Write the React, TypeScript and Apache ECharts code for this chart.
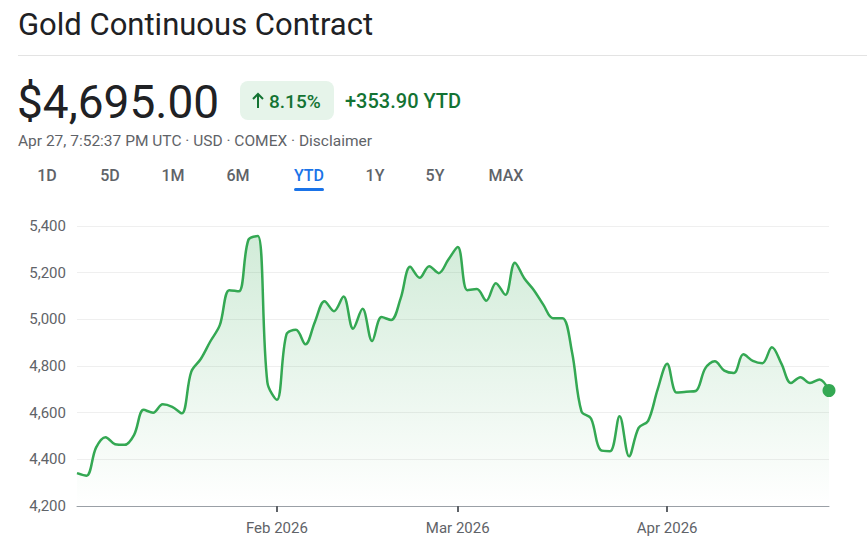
import React, { useEffect, useRef } from "react";
import * as echarts from "echarts";

const dates: string[] = [
  "2025-12-31",
  "2026-01-02", "2026-01-05", "2026-01-06", "2026-01-07", "2026-01-08", "2026-01-09",
  "2026-01-12", "2026-01-13", "2026-01-14", "2026-01-15", "2026-01-16",
  "2026-01-20", "2026-01-21", "2026-01-22", "2026-01-23",
  "2026-01-26", "2026-01-27", "2026-01-28", "2026-01-29", "2026-01-30",
  "2026-02-02", "2026-02-03", "2026-02-04", "2026-02-05", "2026-02-06",
  "2026-02-09", "2026-02-10", "2026-02-11", "2026-02-12", "2026-02-13",
  "2026-02-17", "2026-02-18", "2026-02-19", "2026-02-20",
  "2026-02-23", "2026-02-24", "2026-02-25", "2026-02-26", "2026-02-27",
  "2026-03-02", "2026-03-03", "2026-03-04", "2026-03-05", "2026-03-06",
  "2026-03-09", "2026-03-10", "2026-03-11", "2026-03-12", "2026-03-13",
  "2026-03-16", "2026-03-17", "2026-03-18", "2026-03-19", "2026-03-20",
  "2026-03-23", "2026-03-24", "2026-03-25", "2026-03-26", "2026-03-27",
  "2026-03-30", "2026-03-31",
  "2026-04-01", "2026-04-02",
  "2026-04-06", "2026-04-07", "2026-04-08", "2026-04-09", "2026-04-10",
  "2026-04-13", "2026-04-14", "2026-04-15", "2026-04-16", "2026-04-17",
  "2026-04-20", "2026-04-21", "2026-04-22", "2026-04-23", "2026-04-24",
  "2026-04-27",
];

const prices: number[] = [
  4341.1,
  4330, 4450, 4495, 4465, 4462, 4505,
  4612, 4600, 4636, 4625, 4597,
  4775, 4830, 4905, 4975,
  5125, 5120, 5340, 5357, 4730,
  4655, 4935, 4955, 4893, 4990,
  5078, 5035, 5098, 4960, 5045,
  4907, 5010, 4997, 5090,
  5225, 5178, 5228, 5198, 5255,
  5310, 5125, 5130, 5080, 5155,
  5105, 5243, 5175, 5125, 5062,
  5005, 5005, 4860, 4605, 4575,
  4440, 4435, 4585, 4413, 4535,
  4565, 4700,
  4810, 4686,
  4690, 4693, 4790, 4820, 4780,
  4770, 4850, 4822, 4812, 4880,
  4810, 4727, 4752, 4727, 4742,
  4695,
];

const monthTickDates: string[] = ["2026-02-02", "2026-03-02", "2026-04-01"];
const monthTickLabels: string[] = ["Feb 2026", "Mar 2026", "Apr 2026"];
const yTicks: number[] = [4200, 4400, 4600, 4800, 5000, 5200, 5400];

const title = "Gold Continuous Contract";
const priceText = "$4,695.00";
const changePct = "8.15%";
const changeAbs = "+353.90 YTD";
const subtitle = "Apr 27, 7:52:37 PM UTC · USD · COMEX · Disclaimer";
const tabs: string[] = ["1D", "5D", "1M", "6M", "YTD", "1Y", "5Y", "MAX"];
const activeTab = "YTD";

const FONT = "Roboto, 'Noto Sans', Arial, sans-serif";
const GREEN = "#34a853";
const DARK_GREEN = "#137333";

export default function App() {
  const ref = useRef<HTMLDivElement>(null);

  useEffect(() => {
    if (!ref.current) return;
    const chart = echarts.init(ref.current, undefined, { renderer: "svg" });

    const tickIdx = monthTickDates.map((d) => dates.indexOf(d));
    const tabX = [47, 110, 173, 238, 309, 375, 435, 506];

    const graphics: any[] = [
      {
        type: "text",
        x: 18,
        y: 24,
        style: {
          text: title,
          fill: "#202124",
          fontSize: 31,
          fontFamily: FONT,
          fontWeight: 400,
          textAlign: "left",
          textVerticalAlign: "middle",
        },
      },
      {
        type: "line",
        shape: { x1: 18, y1: 55.5, x2: 867, y2: 55.5 },
        style: { stroke: "#e3e3e3", lineWidth: 1 },
      },
      {
        type: "text",
        x: 17,
        y: 102,
        style: {
          text: priceText,
          fill: "#202124",
          fontSize: 46,
          fontFamily: FONT,
          fontWeight: 400,
          textAlign: "left",
          textVerticalAlign: "middle",
        },
      },
      {
        type: "rect",
        shape: { x: 240, y: 81, width: 94, height: 39, r: 8 },
        style: { fill: "#e6f4ea" },
      },
      {
        type: "polyline",
        shape: { points: [[253, 99], [258, 94], [263, 99]] },
        style: { stroke: DARK_GREEN, lineWidth: 2, fill: null },
      },
      {
        type: "line",
        shape: { x1: 258, y1: 95, x2: 258, y2: 108 },
        style: { stroke: DARK_GREEN, lineWidth: 2 },
      },
      {
        type: "text",
        x: 269,
        y: 101,
        style: {
          text: changePct,
          fill: DARK_GREEN,
          fontSize: 19,
          fontFamily: FONT,
          fontWeight: 500,
          textAlign: "left",
          textVerticalAlign: "middle",
        },
      },
      {
        type: "text",
        x: 345,
        y: 101,
        style: {
          text: changeAbs,
          fill: DARK_GREEN,
          fontSize: 20,
          fontFamily: FONT,
          fontWeight: 500,
          textAlign: "left",
          textVerticalAlign: "middle",
        },
      },
      {
        type: "text",
        x: 18,
        y: 141,
        style: {
          text: subtitle,
          fill: "#5f6368",
          fontSize: 15.5,
          fontFamily: FONT,
          fontWeight: 400,
          textAlign: "left",
          textVerticalAlign: "middle",
        },
      },
      ...tabs.map((t, i) => ({
        type: "text",
        x: tabX[i],
        y: 175,
        style: {
          text: t,
          fill: t === activeTab ? "#1a73e8" : "#5f6368",
          fontSize: 16,
          fontFamily: FONT,
          fontWeight: 500,
          textAlign: "center",
          textVerticalAlign: "middle",
        },
      })),
      {
        type: "rect",
        shape: { x: 294, y: 188, width: 30, height: 3, r: 1.5 },
        style: { fill: "#1a73e8" },
      },
    ];

    chart.setOption({
      animation: false,
      graphic: graphics,
      grid: { left: 77, right: 38, top: 226, bottom: 49, containLabel: false },
      xAxis: {
        type: "category",
        data: dates,
        boundaryGap: false,
        axisLine: { show: true, lineStyle: { color: "#9aa0a6", width: 1 } },
        axisTick: {
          show: true,
          interval: (idx: number) => tickIdx.includes(idx),
          length: 6,
          lineStyle: { color: "#5f6368", width: 2 },
        },
        axisLabel: {
          interval: (idx: number) => tickIdx.includes(idx),
          formatter: (v: string) => {
            const k = monthTickDates.indexOf(v);
            return k >= 0 ? monthTickLabels[k] : "";
          },
          color: "#5f6368",
          fontSize: 15,
          fontFamily: FONT,
          margin: 14,
        },
        splitLine: { show: false },
      },
      yAxis: {
        type: "value",
        min: yTicks[0],
        max: yTicks[yTicks.length - 1],
        interval: 200,
        axisLine: { show: false },
        axisTick: { show: false },
        axisLabel: {
          color: "#5f6368",
          fontSize: 15,
          fontFamily: FONT,
          margin: 11,
          formatter: (v: number) => v.toLocaleString("en-US"),
        },
        splitLine: { show: true, lineStyle: { color: "#efefef", width: 1 } },
      },
      series: [
        {
          type: "line",
          data: prices,
          smooth: 0.35,
          showSymbol: false,
          symbol: "none",
          lineStyle: { color: GREEN, width: 2.5 },
          areaStyle: {
            color: new echarts.graphic.LinearGradient(0, 0, 0, 1, [
              { offset: 0, color: "rgba(52,168,83,0.32)" },
              { offset: 1, color: "rgba(52,168,83,0.0)" },
            ]),
          },
          z: 2,
        },
        {
          type: "scatter",
          data: [[dates[dates.length - 1], prices[prices.length - 1]]],
          symbol: "circle",
          symbolSize: 13,
          itemStyle: { color: GREEN, opacity: 1 },
          z: 3,
        },
      ],
    });

    return () => chart.dispose();
  }, []);

  return (
    <div
      ref={ref}
      style={{ position: "fixed", left: 0, top: 0, width: 867, height: 555, background: "#fff" }}
    />
  );
}
